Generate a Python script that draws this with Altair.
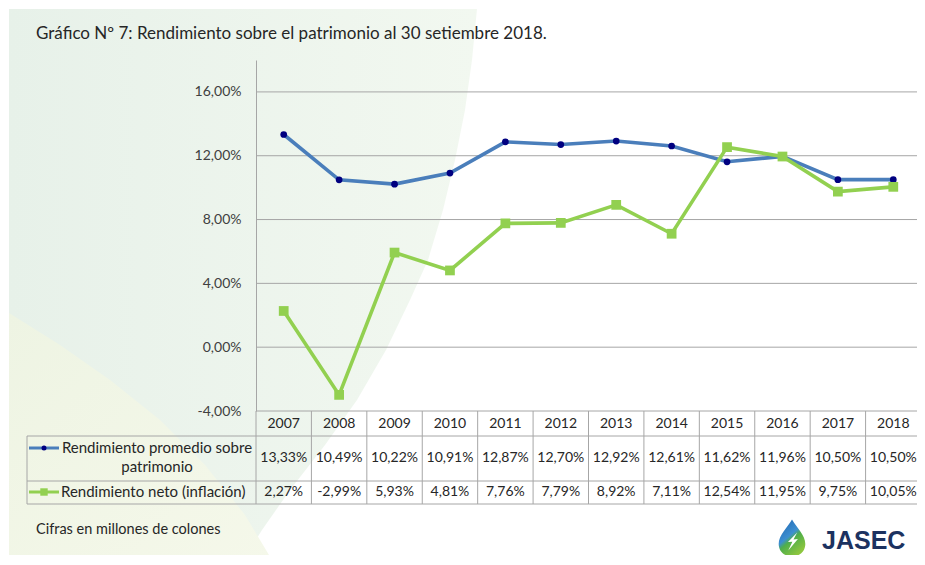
import altair as alt
import pandas as pd

# ---------------- data ----------------
years = [2007, 2008, 2009, 2010, 2011, 2012, 2013, 2014, 2015, 2016, 2017, 2018]
promedio = [13.33, 10.49, 10.22, 10.91, 12.87, 12.70, 12.92, 12.61, 11.62, 11.96, 10.50, 10.50]
neto = [2.27, -2.99, 5.93, 4.81, 7.76, 7.79, 8.92, 7.11, 12.54, 11.95, 9.75, 10.05]
series_names = ["Rendimiento promedio sobre patrimonio", "Rendimiento neto (inflación)"]
series_colors = ["#4a7ebb", "#92d050"]
marker_colors = ["#000080", "#92d050"]
y_ticks = [-4, 0, 4, 8, 12, 16]
y_domain = [-4, 18]
title_text = "Gráfico Nº 7: Rendimiento sobre el patrimonio al 30 setiembre 2018."
note_text = "Cifras en millones de colones"
logo_text = "JASEC"

# ---------------- layout ----------------
W, XR, H = 661, 665, 351
PAD = {"left": 248, "top": 52, "right": 0, "bottom": 144}
STEP = XR / len(years)
FONT = "Lato"
GRID = "#a6a6a6"
TXT = "#262626"

long_df = pd.DataFrame({
    "year": years * 2,
    "series": [series_names[0]] * len(years) + [series_names[1]] * len(years),
    "value": promedio + neto,
})
wide_df = pd.DataFrame({"year": years, "promedio": promedio, "neto": neto})
tick_df = pd.DataFrame({"value": y_ticks})
one = pd.DataFrame({"k": [0]})

fmt = "(datum.{f} < 0 ? '-' : '') + replace(format(abs(datum.{f}), '.2f'), '.', ',') + '%'"

xs = alt.Scale(type="point", domain=years, range=[0, XR], padding=0.5)
ys = alt.Scale(domain=y_domain, nice=False, zero=False)
X = alt.X("year:O", scale=xs, axis=None)
Y = alt.Y("value:Q", scale=ys, axis=alt.Axis(
    values=y_ticks, labelExpr=fmt.format(f="value"), grid=False, ticks=False,
    tickSize=0, labelPadding=15, domainColor=GRID, domainWidth=1,
    labelFont=FONT, labelFontSize=14, labelColor="#404040", title=None, zindex=1))

# ---------------- background decoration ----------------
mint_path = ("M-247,-51 L221,-51 L216,0 L209,50 L199,100 L187,150 L172,200 L154,240 "
             "L130,290 L101,340 L69,385 L34,430 L6,470 L-16,505 L-247,505 Z")
yellow_path = ("M-247,253 L-196,285 L-146,320 L-96,360 L-51,405 L-11,455 L19,505 L-247,505 Z")
mint = alt.Chart(one).mark_point(
    shape=mint_path, size=4, filled=True, opacity=1, strokeWidth=0,
    fill={"gradient": "linear", "x1": 0, "x2": 1, "y1": 0, "y2": 0,
          "stops": [{"offset": 0, "color": "#e7f1e9"}, {"offset": 1, "color": "#f2f8f0"}]},
).encode(x=alt.value(0), y=alt.value(0))
yellow = alt.Chart(one).mark_point(
    shape=yellow_path, size=4, filled=True, opacity=1, strokeWidth=0,
    fill={"gradient": "linear", "x1": 0, "x2": 1, "y1": 0, "y2": 1,
          "stops": [{"offset": 0, "color": "#eef4e3"}, {"offset": 1, "color": "#f5f8ea"}]},
).encode(x=alt.value(0), y=alt.value(0))

# ---------------- gridlines ----------------
grid = alt.Chart(tick_df).mark_rule(color=GRID, strokeWidth=1).encode(
    y=Y, x=alt.value(0), x2=alt.value(XR))

# ---------------- series ----------------
def series_layer(i, shape, size):
    base = alt.Chart(long_df).transform_filter(alt.datum.series == series_names[i])
    line = base.mark_line(color=series_colors[i], strokeWidth=3.6).encode(x=X, y=Y)
    pts = base.mark_point(shape=shape, filled=True, size=size, color=marker_colors[i],
                          opacity=1).encode(x=X, y=Y)
    return line + pts

blue = series_layer(0, "circle", 45)
green = series_layer(1, "square", 95)

# ---------------- data table ----------------
txt = dict(font=FONT, fontSize=14, color=TXT, baseline="middle")
lbl = dict(font=FONT, fontSize=15, color=TXT, baseline="middle")
header = alt.Chart(wide_df).mark_text(**txt).encode(
    x=X, y=alt.value(364), text=alt.Text("year:O"))
row1 = alt.Chart(wide_df).transform_calculate(lbl=fmt.format(f="promedio")).mark_text(**txt).encode(
    x=X, y=alt.value(398), text="lbl:N")
row2 = alt.Chart(wide_df).transform_calculate(lbl=fmt.format(f="neto")).mark_text(**txt).encode(
    x=X, y=alt.value(432), text="lbl:N")

vlines = alt.Chart(wide_df).mark_rule(color=GRID, strokeWidth=1, xOffset=-STEP / 2).encode(
    x=X, y=alt.value(351), y2=alt.value(444))
hl = []
for yy in (376, 421, 444):
    hl.append(alt.Chart(one).mark_rule(color=GRID, strokeWidth=1).encode(
        x=alt.value(-229), x2=alt.value(XR), y=alt.value(yy)))
lborder = alt.Chart(one).mark_rule(color=GRID, strokeWidth=1).encode(
    x=alt.value(-229), y=alt.value(376), y2=alt.value(444))

lab1_text = "\n".join(series_names[0].rsplit(" ", 1))
lab1 = alt.Chart(pd.DataFrame({"t": [lab1_text]})).mark_text(
    **lbl, align="center", lineBreak="\n", lineHeight=19).encode(
    x=alt.value(-99), y=alt.value(388), text="t:N")
lab2 = alt.Chart(pd.DataFrame({"t": [series_names[1]]})).mark_text(
    **lbl, align="left").encode(x=alt.value(-195), y=alt.value(432), text="t:N")

key1_line = alt.Chart(one).mark_rule(color=series_colors[0], strokeWidth=3).encode(
    x=alt.value(-227), x2=alt.value(-197), y=alt.value(388))
key1_pt = alt.Chart(one).mark_point(shape="circle", filled=True, size=25, color=marker_colors[0],
                                   opacity=1).encode(x=alt.value(-212), y=alt.value(388))
key2_line = alt.Chart(one).mark_rule(color=series_colors[1], strokeWidth=3).encode(
    x=alt.value(-227), x2=alt.value(-197), y=alt.value(432))
key2_pt = alt.Chart(one).mark_point(shape="square", filled=True, size=55, color=marker_colors[1],
                                   opacity=1).encode(x=alt.value(-212), y=alt.value(432))

# ---------------- titles / notes ----------------
title = alt.Chart(pd.DataFrame({"t": [title_text]})).mark_text(
    font=FONT, fontSize=17, color=TXT, align="left", baseline="middle").encode(
    x=alt.value(-220), y=alt.value(-26), text="t:N")
note = alt.Chart(pd.DataFrame({"t": [note_text]})).mark_text(
    font=FONT, fontSize=14.5, color=TXT, align="left", baseline="middle").encode(
    x=alt.value(-220), y=alt.value(470), text="t:N")

# ---------------- logo ----------------
drop_path = ("M0,-1 C0.25,-0.55 0.72,-0.15 0.72,0.32 C0.72,0.72 0.4,1 0,1 "
             "C-0.4,1 -0.72,0.72 -0.72,0.32 C-0.72,-0.15 -0.25,-0.55 0,-1 Z")
bolt_path = "M0.28,-0.3 L-0.22,0.22 L0.02,0.2 L-0.2,0.68 L0.32,0.06 L0.08,0.08 Z"
drop = alt.Chart(one).mark_point(
    shape=drop_path, size=1369, filled=True, opacity=1, strokeWidth=0,
    fill={"gradient": "linear", "x1": 0, "x2": 0.6, "y1": 0, "y2": 1,
          "stops": [{"offset": 0, "color": "#1f63b0"}, {"offset": 0.5, "color": "#3c8fd0"},
                    {"offset": 0.62, "color": "#4fae4a"}, {"offset": 1, "color": "#8dc63f"}]},
).encode(x=alt.value(536), y=alt.value(478))
bolt = alt.Chart(one).mark_point(shape=bolt_path, size=1369, filled=True, opacity=1,
                                 color="white", strokeWidth=0).encode(
    x=alt.value(536), y=alt.value(478))
logo = alt.Chart(pd.DataFrame({"t": [logo_text]})).mark_text(
    font="Liberation Sans", fontWeight="bold", fontSize=25, color="#1c3260",
    align="left", baseline="alphabetic").encode(x=alt.value(566), y=alt.value(489), text="t:N")

chart = alt.layer(
    mint, yellow, grid, blue, green, header, row1, row2, vlines, *hl, lborder,
    lab1, lab2, key1_line, key1_pt, key2_line, key2_pt, title, note, drop, bolt, logo,
).properties(
    width=W, height=H, autosize=alt.AutoSizeParams(type="none"), padding=PAD,
    background="white",
).configure_view(stroke=None)

chart.save("out.html", embed_options={"renderer": "svg", "actions": False})
